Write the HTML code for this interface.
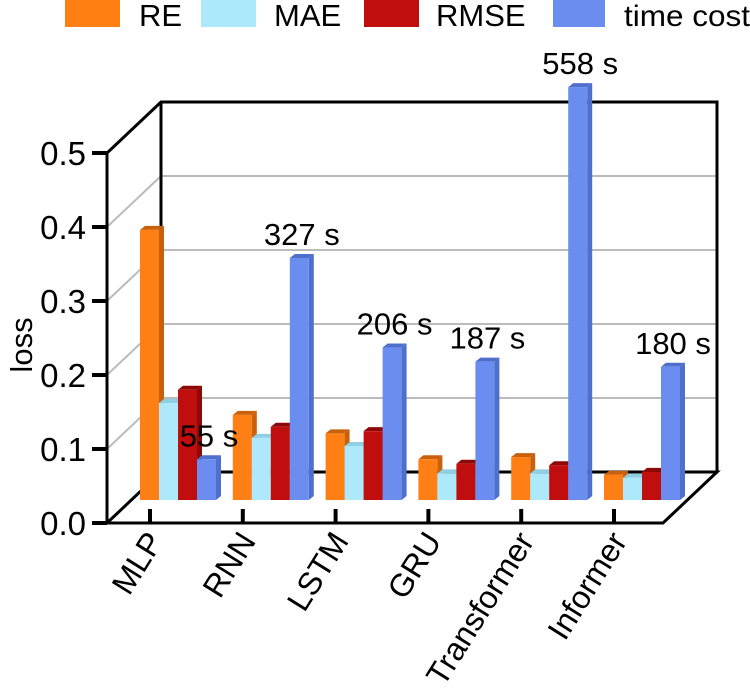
<!DOCTYPE html>
<html><head><meta charset="utf-8"><style>
body{margin:0;background:#fff}
svg{display:block;font-family:"Liberation Sans",Arial,sans-serif}
</style></head><body>
<svg id="chart" width="750" height="692" viewBox="0 0 750 692" xmlns="http://www.w3.org/2000/svg">
<g id="legend">
 <rect x="65" y="0" width="55" height="27" fill="#ff7f14"/>
 <text x="139" y="26" font-size="31">RE</text>
 <rect x="201" y="0" width="55" height="27" fill="#aee9fb"/>
 <text x="274" y="26" font-size="31">MAE</text>
 <rect x="364" y="0" width="55" height="27" fill="#c00d0d"/>
 <text x="436" y="26" font-size="31">RMSE</text>
 <rect x="553" y="0" width="52" height="27" fill="#6b8def"/>
 <text x="624" y="26" font-size="30" textLength="126" lengthAdjust="spacingAndGlyphs">time cost</text>
</g>
<g id="frame"></g>
<g id="bars"></g>
<g id="labels"></g>
<text transform="translate(32,345) rotate(-90)" text-anchor="middle" font-size="31">loss</text>
</svg>
<script>
const categories=["MLP","RNN","LSTM","GRU","Transformer","Informer"];
const reValues=[0.365,0.115,0.09,0.055,0.058,0.034];
const maeValues=[0.131,0.084,0.073,0.036,0.036,0.03];
const rmseValues=[0.149,0.099,0.093,0.049,0.047,0.038];
const timeValues=[55,327,206,187,558,180];
const yTicks=["0.0","0.1","0.2","0.3","0.4","0.5"];

const NS="http://www.w3.org/2000/svg";
function mk(tag,attrs,parent){const e=document.createElementNS(NS,tag);for(const k in attrs)e.setAttribute(k,attrs[k]);parent.appendChild(e);return e;}
const FX0=107,FX1=663,FY0=523,DX=54,DY=-51,UNIT=740;
const frontY=v=>FY0-v*UNIT;
const barBase=500;
const barY=v=>barBase-v*UNIT;
const groupX=i=>140+i*92.8;
const BW=19;

const frame=document.getElementById('frame');
const floor=mk('polygon',{points:`${FX0},${FY0} ${FX1},${FY0} ${FX1+DX},${FY0+DY} ${FX0+DX},${FY0+DY}`,fill:'#fff',stroke:'#000','stroke-width':3},frame);


for(let t=1;t<yTicks.length;t++){
 const v=+yTicks[t];const y=frontY(v);
 const g1=mk('line',{x1:FX0,y1:y,x2:FX0+DX,y2:y+DY,stroke:'#bbb','stroke-width':2},frame);
 
 
 if(t<yTicks.length-1){
 const g2=mk('line',{x1:FX0+DX,y1:y+DY,x2:FX1+DX,y2:y+DY,stroke:'#bbb','stroke-width':2},frame);
 
 }
}
const topY=frontY(0.5);
const wall=mk('polyline',{points:`${FX0},${FY0} ${FX0},${topY} ${FX0+DX},${topY+DY} ${FX1+DX},${topY+DY} ${FX1+DX},${FY0+DY}`,fill:'none',stroke:'#000','stroke-width':3},frame);


const wl=mk('line',{x1:FX0+DX,y1:topY+DY,x2:FX0+DX,y2:FY0+DY,stroke:'#000','stroke-width':3},frame);


yTicks.forEach(t=>{const y=frontY(+t);
 const l=mk('line',{x1:92,y1:y,x2:FX0,y2:y,stroke:'#000','stroke-width':4},frame);
 
 
 const tx=mk('text',{x:86,y:y+12,'text-anchor':'end','font-size':33},frame);tx.textContent=t;
 
 
});
const bars=document.getElementById('bars');
const series=[
 {vals:reValues,f:'#ff7f14',s:'#c9600c',name:'re'},
 {vals:maeValues,f:'#aee9fb',s:'#8fcfe3',name:'mae'},
 {vals:rmseValues,f:'#c00d0d',s:'#8f0808',name:'rmse'},
 {vals:timeValues.map(v=>v/1000),f:'#6b8def',s:'#4f6fcc',name:'time-cost'}];
const labels=document.getElementById('labels');
categories.forEach((c,i)=>{
 const gx=groupX(i);
 series.forEach((s,k)=>{
  const x=gx+k*BW,y=barY(s.vals[i]),d=5;
  const g=mk('g',{},bars);
  
  
  mk('polygon',{points:`${x+BW},${y} ${x+BW+d},${y-4} ${x+BW+d},${barBase-4} ${x+BW},${barBase}`,fill:s.s},g);
  mk('polygon',{points:`${x},${y} ${x+d},${y-4} ${x+BW+d},${y-4} ${x+BW},${y}`,fill:s.s},g);
  mk('rect',{x:x,y:y,width:BW,height:barBase-y,fill:s.f},g);
 });
 const ty=barY(timeValues[i]/1000)-13;
 const lt=mk('text',{x:gx+3*BW+12,y:ty,'text-anchor':'middle','font-size':31},labels);
 lt.textContent=timeValues[i]+' s';
 
 
 const tk=mk('line',{x1:gx+10,y1:FY0-14,x2:gx+10,y2:FY0,stroke:'#000','stroke-width':4},frame);
 
 
 const xl=mk('text',{transform:`translate(${gx+24},${FY0+18}) rotate(-58)`,'text-anchor':'end','font-size':32},labels);
 xl.textContent=c;
 
 
});
</script>
</body></html>
